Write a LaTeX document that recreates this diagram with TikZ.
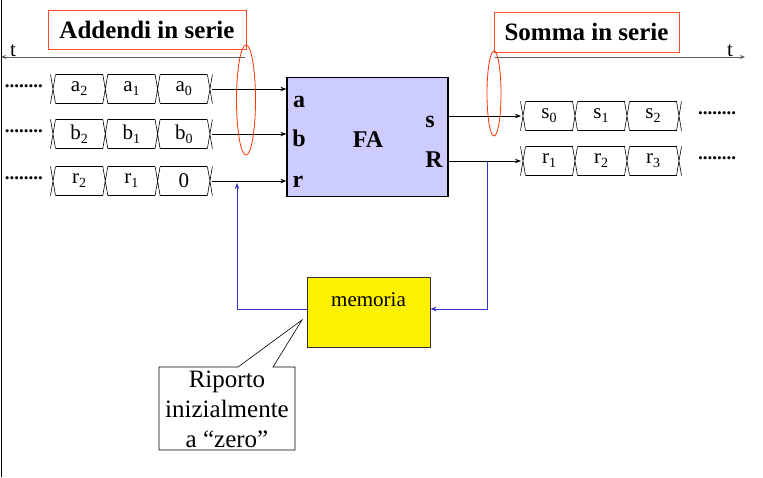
\documentclass[tikz,border=0pt]{standalone}
\usepackage{fontspec}
\setmainfont{Liberation Serif}
\usetikzlibrary{arrows.meta}
\definecolor{ttlred}{HTML}{FF4A2A}
\definecolor{ellred}{HTML}{FF3300}
\definecolor{fblue}{HTML}{3333CC}
\definecolor{falav}{HTML}{CCCCFF}
\definecolor{axgray}{HTML}{606060}
\newcommand\sbs[1]{\raisebox{-4pt}{\fontsize{14}{14}\selectfont #1}}
\tikzset{
  titlebox/.style={draw=ttlred, line width=0.8pt, minimum width=198pt, minimum height=39pt, inner sep=0pt, font=\fontsize{25}{28}\selectfont\bfseries},
  fabox/.style={draw=black, line width=1.3pt, fill=falav, minimum width=161pt, minimum height=119pt, inner sep=0pt},
  falabel/.style={font=\fontsize{24}{26}\selectfont\bfseries, inner sep=0pt, anchor=base},
  cellbox/.style={inner sep=0pt, font=\fontsize{21}{24}\selectfont},
  dotsnode/.style={inner sep=0pt, font=\fontsize{19}{20}\selectfont\bfseries},
  sig/.style={line width=0.8pt, -{Stealth[length=6pt,width=4.5pt]}},
  fb/.style={draw=fblue, line width=0.8pt},
  fbarrow/.style={fb, -{Stealth[length=6pt,width=4.5pt]}},
  axis/.style={draw=axgray, line width=0.7pt},
  ell/.style={draw=ellred, line width=0.8pt},
  memobox/.style={draw=black!80, line width=1pt, fill=yellow, minimum width=123pt, minimum height=70pt, inner sep=0pt},
  calltext/.style={align=center, inner sep=0pt, font=\fontsize{25}{30}\selectfont},
}
% row of timing cells: #1 y centre, #2 first cross x, #3 step, #4,#5,#6 labels, #7 name prefix
\newcommand\tcrow[7]{%
  \foreach \k in {0,1,2,3}{%
    \pgfmathsetmacro\xx{#2+\k*#3}%
    \draw[line width=0.6pt] (\xx-2.5,#1-14.5) -- (\xx+2.5,#1+14.5) (\xx+2.5,#1-14.5) -- (\xx-2.5,#1+14.5);
  }%
  \foreach \k in {0,1,2}{%
    \pgfmathsetmacro\xa{#2+\k*#3+2.5}%
    \pgfmathsetmacro\xb{#2+(\k+1)*#3-2.5}%
    \draw[line width=0.6pt] (\xa,#1-14.5) -- (\xb,#1-14.5) (\xa,#1+14.5) -- (\xb,#1+14.5);
  }%
  \node[cellbox] (#7c1) at (#2+0.5*#3,#1) {#4};
  \node[cellbox] (#7c2) at (#2+1.5*#3,#1) {#5};
  \node[cellbox] (#7c3) at (#2+2.5*#3,#1) {#6};
  \coordinate (#7end) at (#2+3*#3+2,#1);
  \coordinate (#7start) at (#2-2,#1);
}
\begin{document}
\begin{tikzpicture}[x=1pt,y=-1pt]
\useasboundingbox (0,0) rectangle (763,477);
\fill[white] (0,0) rectangle (763,477);
% left border line
\draw[line width=1pt] (1,0) -- (1,477);

% titles
\node[titlebox] (tadd) at (147,29.5) {Addendi in serie};
\node[titlebox, minimum width=185pt, minimum height=40pt] (tsom) at (586.5,32) {Somma in serie};

% time axes
\coordinate (axLs) at (245,57);
\coordinate (axLe) at (1,57);
\draw[axis, -{Stealth[length=5pt,width=4pt]}] (axLs) -- (axLe);
\node[cellbox, anchor=base] (tL) at (13,56) {t};
\coordinate (axRs) at (495,57);
\coordinate (axRe) at (745,57);
\draw[axis, -{Stealth[length=5pt,width=4pt]}] (axRs) -- (axRe);
\node[cellbox, anchor=base] (tR) at (730,56) {t};

% left cell rows
\tcrow{89}{53}{52.3}{a\sbs{2}}{a\sbs{1}}{a\sbs{0}}{A}
\tcrow{134}{53}{52.3}{b\sbs{2}}{b\sbs{1}}{b\sbs{0}}{B}
\tcrow{181}{53}{52.3}{r\sbs{2}}{r\sbs{1}}{0}{C}
\node[dotsnode] (dA) at (24,86) {........};
\node[dotsnode] (dB) at (24,131) {........};
\node[dotsnode] (dC) at (24,178) {........};

% FA
\node[fabox] (FA) at (367.5,137) {};
\node[falabel] (la) at (299,107) {a};
\node[falabel] (lb) at (299,146) {b};
\node[falabel] (lr) at (298,187) {r};
\node[falabel] (lFA) at (368,147) {FA};
\node[falabel] (ls) at (430,127) {s};
\node[falabel] (lR) at (434,167) {R};

\draw[sig] (Aend) -- (Aend -| FA.west);
\draw[sig] (Bend) -- (Bend -| FA.west);
\draw[sig] (Cend) -- (Cend -| FA.west);

% right cell rows
\tcrow{116}{523}{52}{s\sbs{0}}{s\sbs{1}}{s\sbs{2}}{S}
\tcrow{161}{523}{52}{r\sbs{1}}{r\sbs{2}}{r\sbs{3}}{T}
\node[dotsnode] (dS) at (717,113) {........};
\node[dotsnode] (dT) at (717,158) {........};

\draw[sig] (FA.east |- Sstart) -- (Sstart);
\draw[sig] (FA.east |- Tstart) -- (Tstart);

% ellipses
\draw[ell] (246,100) ellipse [x radius=9.5, y radius=55];
\draw[ell] (494,93.5) ellipse [x radius=7, y radius=42.5];

% memoria
\node[memobox] (mem) at (368.5,312) {};
\node[cellbox, anchor=base] (memt) at (368.5,306) {memoria};
\coordinate (fbR) at (487,161);
\coordinate (fbL) at (237,309);
\draw[fbarrow] (fbR) -- (487,309) -- (mem.east |- 0,309);
\draw[fbarrow] (mem.west |- 0,309) -- (fbL) -- (237,183);

% callout
\draw[line width=0.6pt, fill=white] (159,367) -- (238,367) -- (302,320) -- (273,367) -- (295,367) -- (295,450) -- (159,450) -- cycle;
\node[calltext] (call) at (227,409) {Riporto\\inizialmente\\a “zero”};
\end{tikzpicture}
\end{document}
